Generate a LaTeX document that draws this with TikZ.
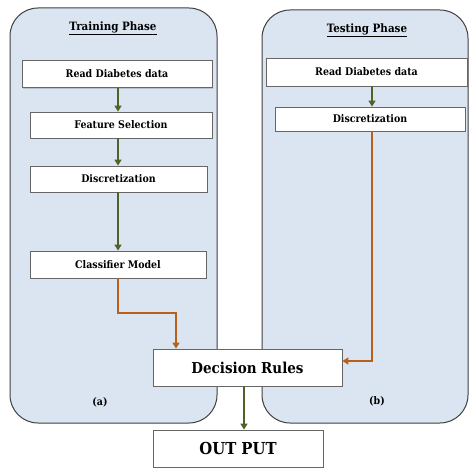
\documentclass[tikz,border=0pt]{standalone}
\usepackage{fontspec}
\setmainfont{DejaVu Serif Condensed}
\usetikzlibrary{arrows.meta,shadows}
\definecolor{panelfill}{HTML}{DBE5F1}
\definecolor{panelline}{HTML}{404040}
\definecolor{arrgreen}{HTML}{4F6228}
\definecolor{arrorange}{HTML}{B8601A}
\tikzset{
  panel/.style={draw=panelline, line width=1pt, fill=panelfill, rounded corners=28pt},
  box/.style={draw=gray!80!black, line width=0.8pt, fill=white, inner sep=0pt,
     drop shadow={shadow xshift=1.2pt, shadow yshift=-1.2pt, opacity=0.35},
     font=\bfseries\fontsize{10.5}{12}\selectfont},
  bigbox/.style={box, font=\bfseries\fontsize{15}{17}\selectfont},
  garrow/.style={draw=arrgreen, line width=2pt, -{Triangle[length=6pt,width=7pt]}},
  oarrow/.style={draw=arrorange, line width=2pt, -{Triangle[length=6pt,width=7pt]}},
  title/.style={font=\bfseries\fontsize{11.5}{13}\selectfont},
  lab/.style={font=\bfseries\fontsize{10.5}{12}\selectfont}
}
\begin{document}
\begin{tikzpicture}[x=1pt,y=-1pt]
\useasboundingbox (0,0) rectangle (470,470);
% panels
\draw[panel] (10,8) rectangle (217,423);
\draw[panel] (262,10) rectangle (468,423);
\node[title] (t1) at (113,28) {\underline{Training Phase}};
\node[title] (t2) at (367,30) {\underline{Testing Phase}};
\node[lab] (la) at (100,402) {(a)};
\node[lab] (lb) at (377,401) {(b)};
% left boxes
\node[box, minimum width=190pt, minimum height=27pt] (r1) at (117,74) {Read Diabetes data};
\node[box, minimum width=182pt, minimum height=26pt] (fs) at (121,125) {Feature Selection};
\node[box, minimum width=177pt, minimum height=26pt] (d1) at (118.5,179) {Discretization};
\node[box, minimum width=176pt, minimum height=27pt] (cm) at (118,264.5) {Classifier Model};
% right boxes
\node[box, minimum width=201pt, minimum height=28pt] (r2) at (366.5,72) {Read Diabetes data};
\node[box, minimum width=190pt, minimum height=24pt] (d2) at (370,119) {Discretization};
% bottom boxes
\node[bigbox, minimum width=189pt, minimum height=37pt] (dr) at (247.5,367.5) {Decision Rules};
\node[bigbox, font=\bfseries\fontsize{16.5}{18}\selectfont, minimum width=170pt, minimum height=37pt] (op) at (238,448.5) {OUT PUT};
% coordinates
\coordinate (c1) at (118,313);
\coordinate (c2) at (176,313);
\coordinate (c3) at (372,361);
% arrows
\draw[garrow] (r1.south -| 118,0) -- (fs.north -| 118,0);
\draw[garrow] (fs.south -| 118,0) -- (d1.north -| 118,0);
\draw[garrow] (d1.south -| 118,0) -- (cm.north -| 118,0);
\draw[garrow] (r2.south -| 372,0) -- (d2.north -| 372,0);
\draw[oarrow] (cm.south -| 118,0) -- (c1) -- (c2) -- (dr.north -| c2);
\draw[oarrow] (d2.south -| 372,0) -- (c3) -- (dr.east |- c3);
\draw[garrow] (dr.south -| 244,0) -- (op.north -| 244,0);
\end{tikzpicture}
\end{document}
